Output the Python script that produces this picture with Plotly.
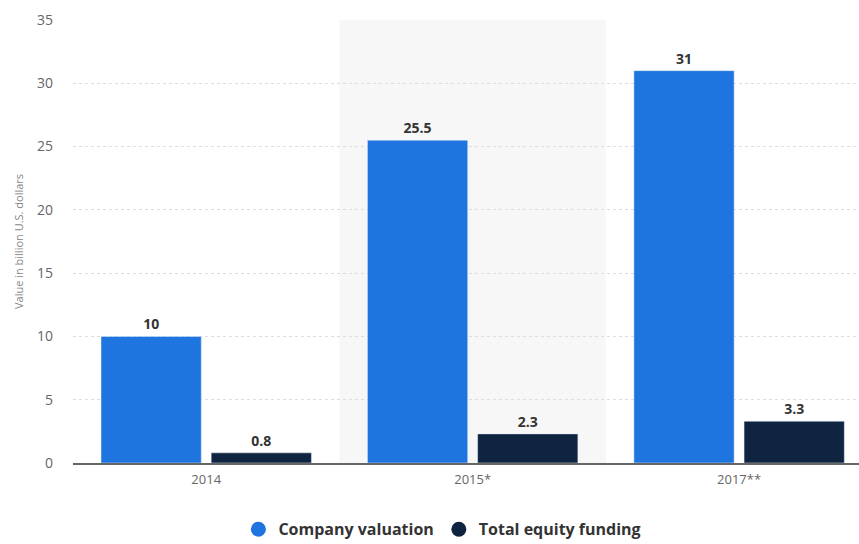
import plotly.graph_objects as go

categories = ["2014", "2015*", "2017**"]
valuation = [10, 25.5, 31]
funding = [0.8, 2.3, 3.3]
valuation_labels = ["10", "25.5", "31"]
funding_labels = ["0.8", "2.3", "3.3"]
series_names = ["Company valuation", "Total equity funding"]
series_colors = ["#1f75e0", "#0e2440"]

label_font = dict(family="Open Sans", size=14, color="#333333", weight="bold")

fig = go.Figure()
fig.add_trace(go.Bar(
    x=categories, y=valuation, name=series_names[0],
    marker=dict(color=series_colors[0]), showlegend=False,
    text=valuation_labels, textposition="outside", cliponaxis=False,
    textfont=label_font,
))
fig.add_trace(go.Bar(
    x=categories, y=funding, name=series_names[1],
    marker=dict(color=series_colors[1]), showlegend=False,
    text=funding_labels, textposition="outside", cliponaxis=False,
    textfont=label_font,
))
for name, color in zip(series_names, series_colors):
    fig.add_trace(go.Scatter(
        x=[None], y=[None], mode="markers", name=name,
        marker=dict(symbol="circle", size=15, color=color),
    ))

fig.add_shape(type="rect", xref="x", yref="paper", x0=0.5, x1=1.5, y0=0, y1=1,
              fillcolor="#f7f7f7", line=dict(width=0), layer="below")

fig.update_layout(
    width=859, height=544,
    margin=dict(l=73, r=0, t=20, b=81, autoexpand=False),
    paper_bgcolor="white", plot_bgcolor="white",
    barmode="group", bargap=0.173, bargroupgap=0.09,
    font=dict(family="Open Sans", color="#666666"),
    showlegend=True,
    legend=dict(orientation="h", xref="container", yref="container",
                x=0.515, xanchor="center", y=0.027, yanchor="middle",
                font=dict(family="Open Sans", size=16, color="#333333", weight="bold"),
                itemwidth=30, tracegroupgap=0),
    xaxis=dict(type="category", range=[-0.5, 2.45], showgrid=False, showline=True,
               linecolor="#666666", linewidth=2, automargin=False,
               tickfont=dict(size=13, color="#666666"), ticks="", ticklabelstandoff=3),
    yaxis=dict(range=[0, 35], dtick=5, showgrid=True, gridcolor="#dddddd", griddash="dot",
               zeroline=False, automargin=False, tickfont=dict(size=14, color="#666666"),
               ticklabelstandoff=19,
               title=dict(text="Value in billion U.S. dollars",
                          font=dict(size=11, color="#888888"), standoff=11)),
)
fig.write_html("out.html", config={"displayModeBar": False},
               post_script="document.body.style.margin='0px';document.body.style.overflow='hidden';")
